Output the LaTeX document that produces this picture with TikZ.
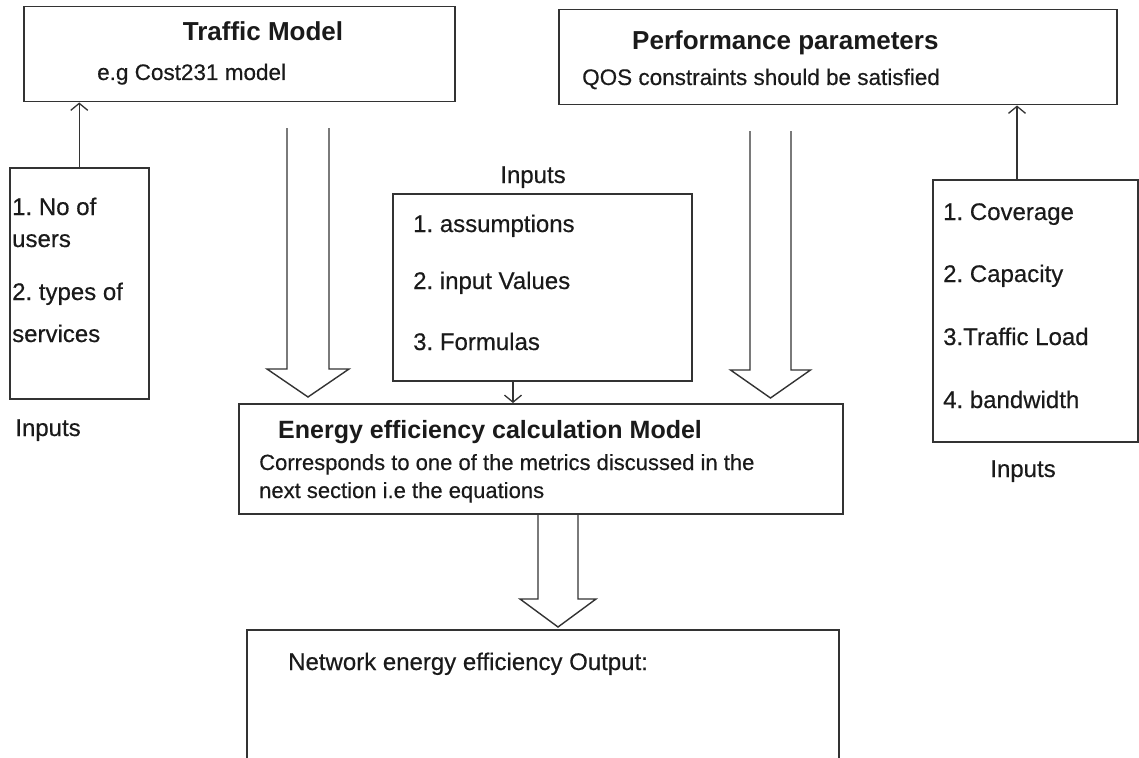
\documentclass[tikz,border=0pt]{standalone}
\usepackage{fontspec}
\setmainfont{Liberation Sans}
\newfontfamily\bodyfont{Liberation Sans}[FakeBold=0.4]
\usetikzlibrary{arrows.meta,calc}
\definecolor{ink}{HTML}{1A1A1A}
\definecolor{linec}{HTML}{333333}
\tikzset{
  box/.style={draw=linec, line width=1.5pt, rectangle, inner sep=0pt, anchor=north west},
  txt/.style={text=ink, inner sep=0pt, anchor=base west, font=\bodyfont\fontsize{24}{28}\selectfont},
  sub/.style={txt, font=\bodyfont\fontsize{22.5}{26}\selectfont},
  ttl/.style={txt, font=\fontsize{26}{30}\selectfont\bfseries},
  feed/.style={draw=linec, line width=1.3pt, -{Straight Barb[length=7pt,width=17pt,line width=1.3pt]}},
  fat/.style={draw=linec, line width=1.4pt, line join=miter}
}
% open block arrow: #1 top centre, #2 tip, #3 half shaft width, #4 half head width
\newcommand\hollowarrow[4]{%
  \draw[fat] let \p1=(#1), \p2=(#2) in
    (\x1-#3,\y1) -- (\x1-#3,\y2+28pt) -- (\x1-#4,\y2+28pt) -- (\x2,\y2)
    -- (\x1+#4,\y2+28pt) -- (\x1+#3,\y2+28pt) -- (\x1+#3,\y1);}
\frenchspacing
\begin{document}
\begin{tikzpicture}[x=1pt,y=-1pt]
\useasboundingbox (0,0) rectangle (1139,757);
\fill[white] (0,0) rectangle (1139,757);

% boxes
\node[box, minimum width=431, minimum height=95] (traffic) at (23,6) {};
\node[box, minimum width=558, minimum height=95] (perf) at (558,9) {};
\node[box, minimum width=139, minimum height=231] (linp) at (9,167) {};
\node[box, minimum width=299, minimum height=187] (minp) at (392,193) {};
\node[box, minimum width=205, minimum height=262] (rinp) at (932,179) {};
\node[box, minimum width=604, minimum height=110] (energy) at (238,403) {};
\node[box, minimum width=592, minimum height=160] (output) at (246,629) {};

% texts
\node[ttl, anchor=base] (trafficT) at (263,41) {Traffic Model};
\node[sub] (trafficS) at (97,80) {e.g Cost231 model};
\node[ttl] (perfT) at (632,50) {Performance parameters};
\node[sub] (perfS) at (582,85) {QOS constraints should be satisfied};

\node[txt] (l1) at (12,215) {1. No of};
\node[txt] (l2) at (12,247) {users};
\node[txt] (l3) at (12,300) {2. types of};
\node[txt] (l4) at (12,342) {services};
\node[txt, anchor=base] (lIn) at (48,436) {Inputs};

\node[txt, anchor=base] (mIn) at (533,183) {Inputs};
\node[txt] (m1) at (413,232) {1. assumptions};
\node[txt] (m2) at (413,289) {2. input Values};
\node[txt] (m3) at (413,350) {3. Formulas};

\node[txt] (r1) at (943,220) {1. Coverage};
\node[txt] (r2) at (943,282) {2. Capacity};
\node[txt] (r3) at (943,345) {3.Traffic Load};
\node[txt] (r4) at (943,408) {4. bandwidth};
\node[txt, anchor=base] (rIn) at (1023,477) {Inputs};

\node[ttl, font=\fontsize{25}{30}\selectfont\bfseries] (energyT) at (278,438) {Energy efficiency calculation Model};
\node[sub, font=\bodyfont\fontsize{22}{26}\selectfont] (energyS1) at (259,470) {Corresponds to one of the metrics discussed in the};
\node[sub, font=\bodyfont\fontsize{22}{26}\selectfont] (energyS2) at (259,498) {next section i.e the equations};

\node[txt] (outT) at (288,670) {Network energy efficiency Output:};

% thin feed arrows
\draw[feed] (linp.north) -- (linp.north |- traffic.south);
\coordinate (rfoot) at ($(rinp.north west)+(85,0)$);
\draw[feed] (rfoot) -- (rfoot |- perf.south);
\coordinate (mfoot) at ($(minp.south west)+(121,0)$);
\draw[feed] (mfoot) -- (mfoot |- energy.north);

% block arrows
\coordinate (aTop) at (308,128);
\coordinate (bTop) at (770.5,131);
\coordinate (cTop) at (energy.south -| 558,0);
\hollowarrow{aTop}{$([yshift=6pt]energy.north -| aTop)$}{21pt}{41pt}
\hollowarrow{bTop}{$([yshift=5pt]energy.north -| bTop)$}{20.5pt}{40pt}
\hollowarrow{cTop}{$([yshift=2pt]output.north -| cTop)$}{20pt}{38pt}
\end{tikzpicture}
\end{document}
